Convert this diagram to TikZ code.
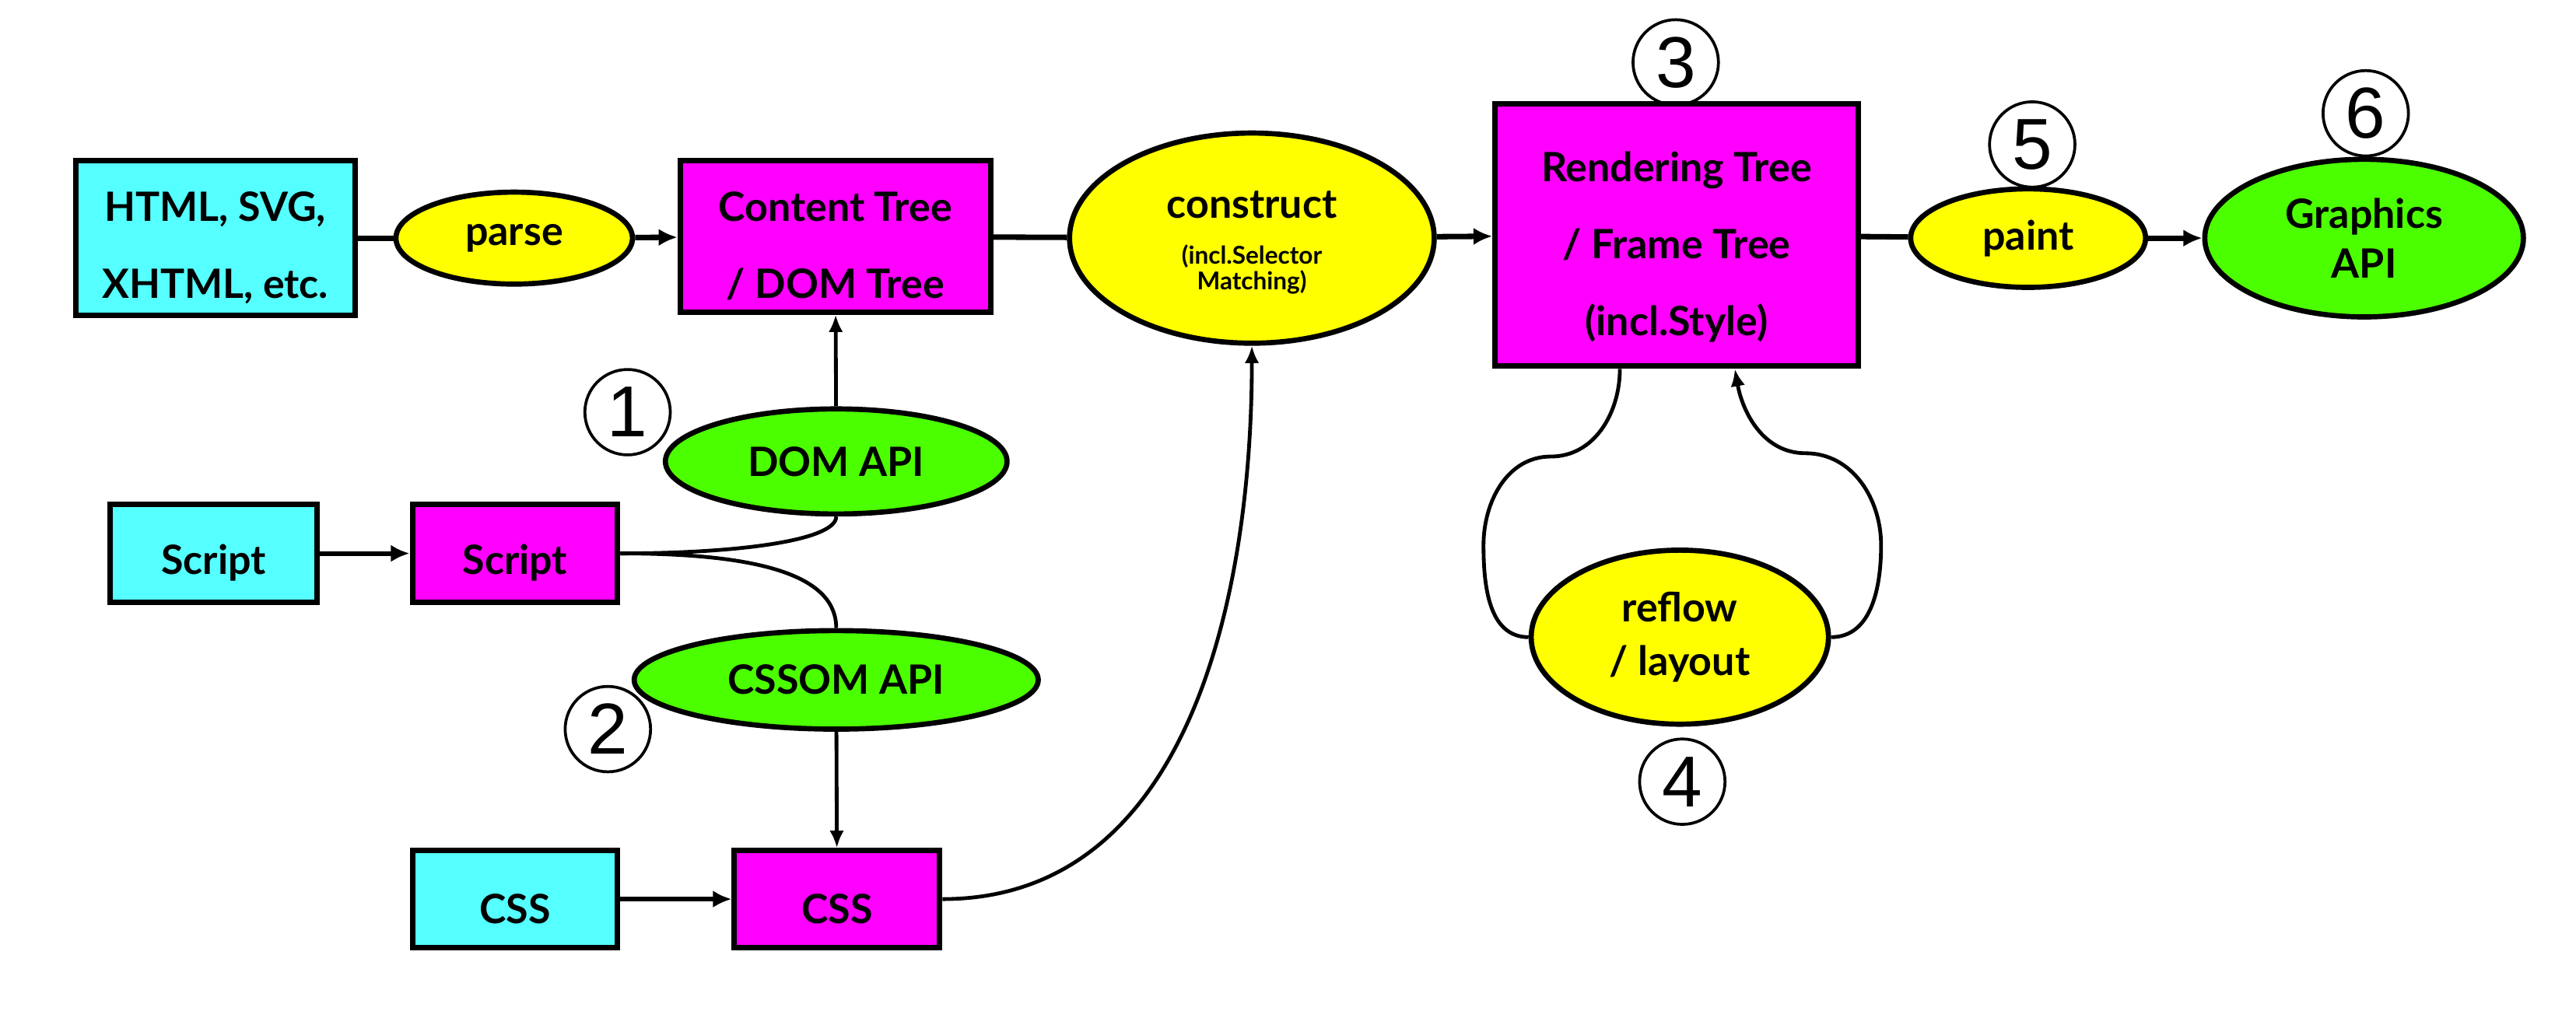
\documentclass[tikz,border=0pt]{standalone}
\usepackage{fontspec}
\setmainfont{Lato}
\newfontfamily\numfont{Liberation Sans}
\usetikzlibrary{arrows.meta,shapes.geometric}
\definecolor{srcCyan}{RGB}{85,255,255}
\definecolor{treeMagenta}{RGB}{255,0,255}
\definecolor{stepYellow}{RGB}{255,255,0}
\definecolor{apiGreen}{RGB}{76,255,0}
\newcommand{\boxstrut}{\rule{0pt}{17pt}}
\newcommand{\smallnote}{\fontsize{8.5}{9}\selectfont}

\begin{document}
\begin{tikzpicture}[x=0.02cm, y=-0.02cm, font=\bfseries\fontsize{14}{17}\selectfont,
    srcbox/.style={rectangle, draw, line width=1.9pt, fill=srcCyan, align=center, inner sep=0pt,
                   font=\bfseries\fontsize{14}{26.7}\selectfont},
    treebox/.style={rectangle, draw, line width=1.9pt, fill=treeMagenta, align=center, inner sep=0pt,
                    font=\bfseries\fontsize{14}{26.7}\selectfont},
    stepoval/.style={ellipse, draw, line width=1.8pt, fill=stepYellow, align=center, inner sep=0pt},
    apioval/.style={ellipse, draw, line width=1.8pt, fill=apiGreen, align=center, inner sep=0pt},
    num/.style={circle, draw, line width=1pt, minimum size=1.04cm, inner sep=0pt,
                font=\numfont\fontsize{25}{25}\selectfont},
    flow/.style={line width=1.9pt},
    link/.style={line width=1.3pt},
    bigtip/.style={-{Latex[length=6.5pt,width=6pt]}},
    smalltip/.style={-{Latex[length=6pt,width=5pt]}}]
    \useasboundingbox (0,0) rectangle (1568,624);

    % main row
    \node[srcbox, minimum width=3.4cm, minimum height=1.88cm] (html) at (131,145) {\boxstrut HTML, SVG,\\XHTML, etc.};
    \node[stepoval, minimum width=2.88cm, minimum height=1.12cm] (parse) at (313,145) {parse};
    \node[treebox, minimum width=3.78cm, minimum height=1.84cm] (content) at (508.5,144) {\boxstrut Content Tree\\/ DOM Tree};
    \node[stepoval, minimum width=4.44cm, minimum height=2.56cm] (construct) at (762,145)
      {\rule{0pt}{12.5pt}construct\\[-1pt]\smallnote(incl.Selector\\[-8pt]\smallnote Matching)};
    \node[treebox, minimum width=4.42cm, minimum height=3.2cm] (render) at (1020.5,143)
      {\rule{0pt}{19pt}Rendering Tree\\/ Frame Tree\\(incl.Style)};
    \node[stepoval, minimum width=2.86cm, minimum height=1.2cm] (paint) at (1234.5,145) {paint};
    \node[apioval, minimum width=3.88cm, minimum height=1.92cm] (graphics) at (1439,145) {Graphics\\API};

    % script and css
    \node[apioval, minimum width=4.16cm, minimum height=1.28cm] (domapi) at (509,281) {DOM API};
    \node[srcbox, minimum width=2.52cm, minimum height=1.2cm] (scriptsrc) at (130,337) {\boxstrut Script};
    \node[treebox, minimum width=2.5cm, minimum height=1.2cm] (script) at (313.5,337) {\boxstrut Script};
    \node[apioval, minimum width=4.92cm, minimum height=1.2cm] (cssomapi) at (509,414) {CSSOM API};
    \node[srcbox, minimum width=2.5cm, minimum height=1.18cm] (csssrc) at (313.5,547.5) {\boxstrut CSS};
    \node[treebox, minimum width=2.5cm, minimum height=1.18cm] (css) at (509.5,547.5) {\boxstrut CSS};

    % layout loop
    \node[stepoval, minimum width=3.62cm, minimum height=2.12cm,
          font=\bfseries\fontsize{14}{18.7}\selectfont] (reflow) at (1022.5,388) {reflow\\/ layout};
    \coordinate (neckL) at (944,278);
    \coordinate (bulgeL) at (903,332);
    \coordinate (neckR) at (1099,276);
    \coordinate (bulgeR) at (1145,332);

    % step numbers
    \node[num] (n1) at (382,251) {1};
    \node[num] (n2) at (370,444) {2};
    \node[num] (n3) at (1020,38) {3};
    \node[num] (n4) at (1024,476) {4};
    \node[num] (n5) at (1237,88) {5};
    \node[num] (n6) at (1440,69) {6};

    \draw[flow] (html) -- (parse);
    \draw[flow, bigtip] (parse) -- (content);
    \draw[flow] (content) -- (construct);
    \draw[flow, bigtip] (construct) -- (render);
    \draw[flow] (render) -- (paint);
    \draw[flow, bigtip] (paint) -- (graphics);

    \draw[link, smalltip] (domapi) -- (content);
    \draw[link] (script.east) .. controls +(75,0) and +(0,14) .. (domapi.south);
    \draw[link] (script.east) .. controls +(85,0) and +(0,-32) .. (cssomapi.north);
    \draw[link, smalltip] (cssomapi) -- (css);
    \draw[line width=1.6pt, bigtip] (scriptsrc) -- (script);
    \draw[line width=1.6pt, bigtip] (csssrc) -- (css);
    \draw[link, smalltip] (css.east) to[out=0, in=-90] (construct.south);

    \draw[link] ([xshift=-0.69cm]render.south) to[out=-90, in=0] (neckL)
      to[out=180, in=90] (bulgeL) to[out=-90, in=180] (reflow.west);
    \draw[link, smalltip] (reflow.east) to[out=0, in=-90] (bulgeR)
      to[out=90, in=0] (neckR) to[out=180, in=-80] ([xshift=0.71cm]render.south);
\end{tikzpicture}
\end{document}
